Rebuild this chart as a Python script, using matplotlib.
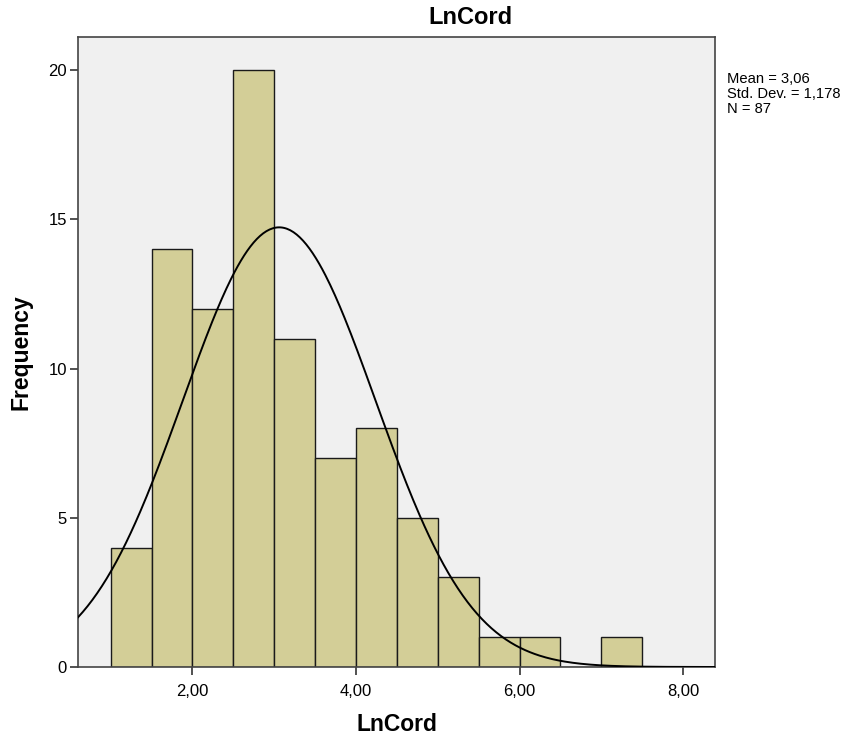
import numpy as np
import matplotlib
matplotlib.use("Agg")
import matplotlib.pyplot as plt

plt.rcParams['font.family'] = ['Liberation Sans', 'DejaVu Sans']

bin_edges = [1.0, 1.5, 2.0, 2.5, 3.0, 3.5, 4.0, 4.5, 5.0, 5.5, 6.0, 6.5, 7.0, 7.5]
counts = [4, 14, 12, 20, 11, 7, 8, 5, 3, 1, 1, 0, 1]
mean = 3.06
sd = 1.178
n = 87
x_ticks = [2, 4, 6, 8]
x_ticklabels = ["2,00", "4,00", "6,00", "8,00"]
y_ticks = [0, 5, 10, 15, 20]

W, H = 860, 742
L, R, T, B = 78, 715, 36.7, 667
fig = plt.figure(figsize=(W/100, H/100), dpi=100)
ax = fig.add_axes([L/W, (H-B)/H, (R-L)/W, (B-T)/H])
ax.set_facecolor('#f0f0f0')

edges = np.array(bin_edges)
widths = np.diff(edges)
ax.bar(edges[:-1], counts, width=widths, align='edge', color='#d3ce97',
       edgecolor='#1a1a1a', linewidth=1.0, zorder=2)

xs = np.linspace(0.6, 8.39, 400)
bw = widths[0]
ys = n * bw / (sd * np.sqrt(2 * np.pi)) * np.exp(-0.5 * ((xs - mean) / sd) ** 2)
ax.plot(xs, ys, color='black', linewidth=1.4, zorder=3)

ax.set_xlim(0.6, 8.39)
ax.set_ylim(0, 21.12)
ax.set_xticks(x_ticks)
ax.set_xticklabels(x_ticklabels)
ax.set_yticks(y_ticks)
ax.tick_params(axis='both', labelsize=12, length=6, width=1.2, color='#333333')
ax.tick_params(axis='x', pad=6)
ax.tick_params(axis='y', pad=2)
for sp in ax.spines.values():
    sp.set_color('#444444')
    sp.set_linewidth(1.2)

ax.set_xlabel("LnCord", fontsize=16.5, fontweight='bold')
ax.xaxis.set_label_coords(0.5, (B - 713) / (B - T))
ax.set_ylabel("Frequency", fontsize=16.5, fontweight='bold')
ax.yaxis.set_label_coords((33 - L) / (R - L), 0.5)

fig.text(470/W, 1 - 6/H, "LnCord", fontsize=17, fontweight='bold',
         ha='center', va='top')

fig.text(727/W, 1 - 72/H, "Mean = 3,06\nStd. Dev. = 1,178\nN = 87",
         fontsize=10.6, va='top', ha='left', linespacing=1.08)

fig.savefig("out.png", dpi=100)
